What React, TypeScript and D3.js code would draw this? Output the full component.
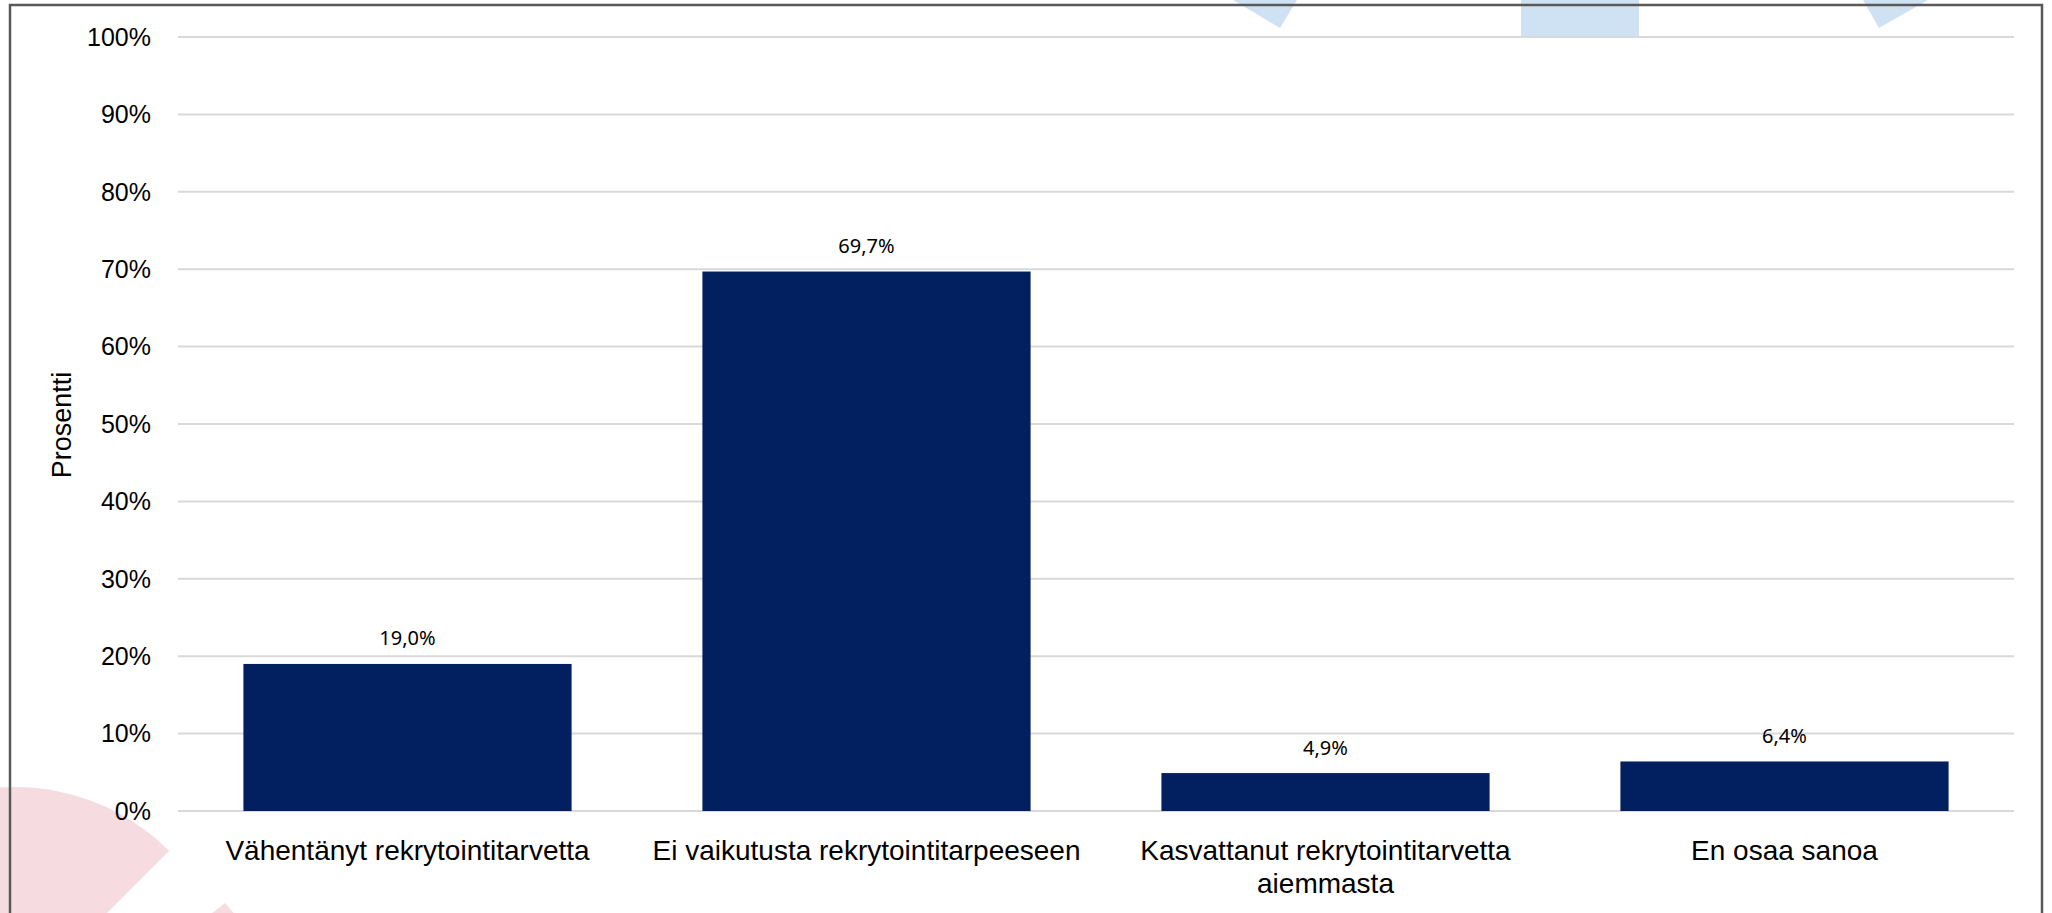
import React from "react";
import * as d3 from "d3";

// ---- Data ----
const categories: string[] = [
  "Vähentänyt rekrytointitarvetta",
  "Ei vaikutusta rekrytointitarpeeseen",
  "Kasvattanut rekrytointitarvetta aiemmasta",
  "En osaa sanoa",
];
const values: number[] = [19.0, 69.7, 4.9, 6.4];
const yTicks: number[] = [0, 10, 20, 30, 40, 50, 60, 70, 80, 90, 100];
const yAxisTitle = "Prosentti";

// ---- Layout ----
const W = 2052;
const H = 913;
const plot = { left: 178, right: 2014, top: 37, bottom: 811 };

const FONT = "'Liberation Sans', Arial, sans-serif";
const LABEL_FONT = "'Noto Sans', 'Open Sans', sans-serif";
const CAT_SIZE = 28;

const fi = d3.formatLocale({
  decimal: ",",
  thousands: "\u00a0",
  grouping: [3],
  currency: ["", "\u00a0€"],
});
const fmtValue = (v: number) => fi.format(".1f")(v) + "%";

function wrapText(text: string, maxW: number, font: string): string[] {
  let ctx: CanvasRenderingContext2D | null = null;
  try {
    ctx = document.createElement("canvas").getContext("2d");
  } catch (e) {
    ctx = null;
  }
  const measure = (s: string) => {
    if (ctx) {
      ctx.font = font;
      return ctx.measureText(s).width;
    }
    return s.length * 14;
  };
  const words = text.split(" ");
  const lines: string[] = [];
  let cur = "";
  for (const w of words) {
    const test = cur ? cur + " " + w : w;
    if (measure(test) > maxW && cur) {
      lines.push(cur);
      cur = w;
    } else {
      cur = test;
    }
  }
  if (cur) lines.push(cur);
  return lines;
}

export default function App() {
  const x = d3
    .scaleBand<string>()
    .domain(categories)
    .range([plot.left, plot.right])
    .paddingInner(0.285)
    .paddingOuter(0.1425);
  const y = d3.scaleLinear().domain([0, 100]).range([plot.bottom, plot.top]);

  const pinkArc = d3.arc()({
    innerRadius: 0,
    outerRadius: 218,
    startAngle: -Math.PI / 2,
    endAngle: Math.PI / 4,
  } as any) as string;

  return (
    <div style={{ width: W, height: H, overflow: "hidden" }}>
      <style>{`html,body{margin:0;padding:0;overflow:hidden;background:#fff}`}</style>
      <svg width={W} height={H} style={{ display: "block" }}>
        <rect x={0} y={0} width={W} height={H} fill="#ffffff" />

        {/* decorative background shapes */}
        <g fill="#f6dce1">
          <path d={pinkArc} transform="translate(15,1005)" />
          <polygon points="225,903 238,918 206,918" />
        </g>
        <g fill="#cfe2f3">
          <polygon points="1233,0 1297,0 1280,28" />
          <rect x={1521} y={0} width={118} height={36} />
          <polygon points="1863,0 1928,0 1879,28" />
        </g>

        {/* chart border */}
        <rect x={10} y={5} width={2032} height={H + 20} fill="none" stroke="#595959" strokeWidth={2.5} />

        {/* gridlines */}
        {yTicks.map((t) => (
          <line
            key={"g" + t}
            x1={plot.left}
            x2={plot.right}
            y1={y(t)}
            y2={y(t)}
            stroke="#d9d9d9"
            strokeWidth={2}
          />
        ))}

        {/* y tick labels */}
        {yTicks.map((t) => (
          <text
            key={"t" + t}
            x={151}
            y={y(t)}
            dy="0.35em"
            textAnchor="end"
            fontFamily={FONT}
            fontSize={25}
            fill="#000"
          >
            {t + "%"}
          </text>
        ))}

        {/* y axis title */}
        <text
          transform={`translate(71,${(plot.top + plot.bottom) / 2 + 1}) rotate(-90)`}
          textAnchor="middle"
          fontFamily={FONT}
          fontSize={27}
          fill="#000"
        >
          {yAxisTitle}
        </text>

        {/* bars */}
        {categories.map((c, i) => (
          <rect
            key={"b" + c}
            x={x(c)!}
            y={y(values[i])}
            width={x.bandwidth()}
            height={y(0) - y(values[i])}
            fill="#02205f"
          />
        ))}

        {/* value labels */}
        {categories.map((c, i) => (
          <text
            key={"v" + c}
            x={x(c)! + x.bandwidth() / 2}
            y={y(values[i]) - 18.5}
            textAnchor="middle"
            fontFamily={LABEL_FONT}
            fontSize={20}
            fill="#000"
          >
            {fmtValue(values[i])}
          </text>
        ))}

        {/* category labels */}
        {categories.map((c) => {
          const lines = wrapText(c, x.step() - 10, `${CAT_SIZE}px 'Liberation Sans'`);
          return (
            <text
              key={"c" + c}
              x={x(c)! + x.bandwidth() / 2}
              y={860}
              textAnchor="middle"
              fontFamily={FONT}
              fontSize={CAT_SIZE}
              fill="#000"
            >
              {lines.map((l, j) => (
                <tspan key={j} x={x(c)! + x.bandwidth() / 2} dy={j === 0 ? 0 : 33}>
                  {l}
                </tspan>
              ))}
            </text>
          );
        })}
      </svg>
    </div>
  );
}
